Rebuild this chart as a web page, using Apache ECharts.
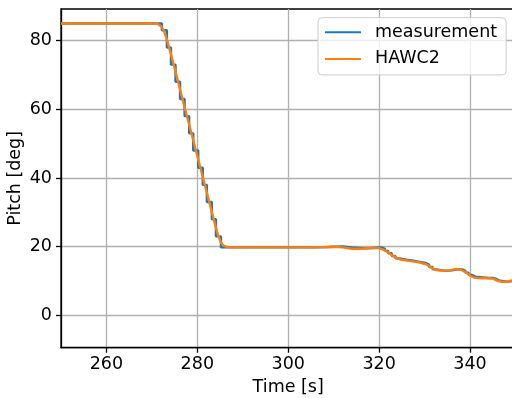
<!DOCTYPE html>
<html>
<head>
<meta charset="utf-8">
<script src="https://cdn.jsdelivr.net/npm/echarts@6/dist/echarts.min.js"></script>
<style>
html,body{margin:0;padding:0;background:#fff;}
#main{width:512px;height:398px;}
</style>
</head>
<body>
<div id="main"></div>
<script>
// pitch steps of the measurement: [time, level held from that time]
var measurementData=[
    [250,85],[272.2,83],[273.3,78],[274.2,73],[275.2,68],[276.2,63],[277.2,58],
    [278.2,53],[279.1,48],[280.2,43],[281.2,38],[282.1,33],[283.2,28],[284.1,23],
    [285.2,19.8],[290,19.8],[300,19.8],[306,19.9],[309,20.1],[312,19.8],[314,19.5],
    [317,19.7],[319.5,19.8],[320.5,19.4],[321.3,18.8],[322,18.1],[322.8,17.3],
    [323.6,16.6],[324.5,16.2],[326,15.9],[327.5,15.6],[329,15.3],[330.2,14.8],
    [331,14.1],[331.8,13.4],[332.6,13.0],[334.5,13.1],[336,13.4],[337.5,13.4],
    [338.3,13.0],[339,12.4],[339.7,11.8],[340.4,11.3],[341.2,10.9],[344,10.9],
    [345,10.6],[345.8,10.1],[346.6,9.8],[348.2,9.9],[349,10.2],[350,10.3]
];
// simulated pitch
var hawc2Data=[
    [250,85],[270.5,85],[271.3,84.8],[272,84.2],[272.6,83],[273.2,80.8],[274,77],
    [275,72],[276,66.8],[277,61.6],[278,56.6],[279,51.5],[280,46.4],[281,41.3],
    [282,36.2],[283,31.1],[284,26.0],[284.6,23.2],[285.2,21.2],[285.8,20.3],
    [286.6,19.9],[288,19.8],[300,19.8],[305,19.8],[308,19.9],[310,20.0],[312,19.8],
    [314,19.4],[316,19.4],[318,19.6],[320,19.6],[321,19.1],[322,18.3],[323,17.4],
    [324,16.6],[325,16.2],[327,15.8],[329,15.4],[330.5,14.8],[331.5,13.9],
    [332.5,13.2],[334,13.0],[335.5,13.1],[337,13.5],[338,13.3],[339,12.6],
    [340,11.6],[341,11.0],[342.5,10.8],[344,10.9],[345,10.7],[346,10.1],
    [347,9.8],[348,9.8],[349,10.1],[350,10.3]
];
var xTicks=[260,280,300,320,340];
var yTicks=[0,20,40,60,80];
var seriesNames=['measurement','HAWC2'];

var FONT='DejaVu Sans';
var myChart=echarts.init(document.getElementById('main'));
var option={
    animation:false,
    backgroundColor:'#ffffff',
    grid:{
        left:61,
        top:9,
        right:-3.4,
        bottom:50.3,
        outerBoundsMode:'none',
        containLabel:false,
        show:true,
        borderColor:'#000',
        borderWidth:1.3
    },
    legend:{
        data:seriesNames,
        orient:'vertical',
        left:318,
        top:17.7,
        itemWidth:36,
        itemHeight:18,
        itemGap:8.7,
        padding:[5.5,9,7,6],
        backgroundColor:'rgba(255,255,255,0.8)',
        borderColor:'#cccccc',
        borderWidth:1,
        borderRadius:4,
        itemStyle:{opacity:0},
        textStyle:{
            fontFamily:FONT,
            fontSize:17.5,
            color:'#000',
            padding:[0,0,0,9]
        }
    },
    xAxis:{
        type:'value',
        min:250,
        max:350,
        name:'Time [s]',
        nameLocation:'middle',
        nameGap:31,
        nameMoveOverlap:false,
        nameTextStyle:{fontFamily:FONT,fontSize:17.5,color:'#000'},
        axisLine:{show:true,onZero:false,lineStyle:{color:'#000',width:1.3}},
        axisTick:{show:true,inside:false,length:5,lineStyle:{color:'#000',width:1.3},customValues:xTicks},
        axisLabel:{fontFamily:FONT,fontSize:17.5,color:'#000',margin:8,customValues:xTicks},
        splitLine:{show:true,lineStyle:{color:'#b0b0b0',width:1.3}}
    },
    yAxis:{
        type:'value',
        min:-9.4,
        max:89.2,
        name:'Pitch [deg]',
        nameLocation:'middle',
        nameGap:37,
        nameMoveOverlap:false,
        nameTextStyle:{fontFamily:FONT,fontSize:17.5,color:'#000'},
        axisLine:{show:true,onZero:false,lineStyle:{color:'#000',width:1.3}},
        axisTick:{show:true,inside:false,length:5,lineStyle:{color:'#000',width:1.3},customValues:yTicks},
        axisLabel:{fontFamily:FONT,fontSize:17.5,color:'#000',margin:9,customValues:yTicks},
        splitLine:{show:true,lineStyle:{color:'#b0b0b0',width:1.3}}
    },
    series:[
        {
            name:seriesNames[0],
            type:'line',
            step:'end',
            symbol:'none',
            data:measurementData,
            lineStyle:{color:'#1f77b4',width:2.4},
            itemStyle:{color:'#1f77b4'}
        },
        {
            name:seriesNames[1],
            type:'line',
            symbol:'none',
            data:hawc2Data,
            lineStyle:{color:'#ff7f0e',width:2.4},
            itemStyle:{color:'#ff7f0e'}
        }
    ]
};
myChart.setOption(option);
</script>
</body>
</html>
